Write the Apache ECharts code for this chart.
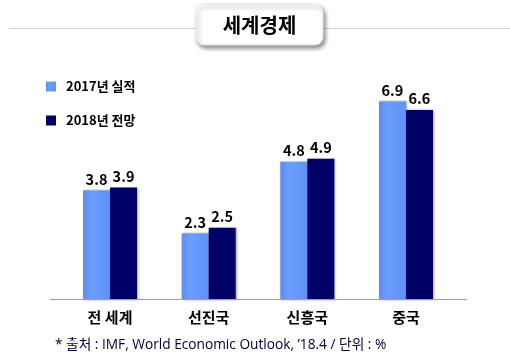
<!DOCTYPE html>
<html>
<head>
<meta charset="utf-8">
<script src="https://cdn.jsdelivr.net/npm/echarts@6/dist/echarts.min.js"></script>
<style>
html,body{margin:0;padding:0;background:#fff;}
#c{width:510px;height:358px;}
</style>
</head>
<body>
<div id="c"></div>
<script>
var categories = ['전 세계', '선진국', '신흥국', '중국'];
var series2017 = [3.8, 2.3, 4.8, 6.9];
var series2018 = [3.9, 2.5, 4.9, 6.6];
var seriesNames = ['2017년 실적', '2018년 전망'];
var titleText = '세계경제';
var footnote = '* 출처 : IMF, World Economic Outlook, ’18.4 / 단위 : %';

var FONT = '"Noto Sans CJK KR", "Noto Sans", sans-serif';
var FOOTFONT = '"Open Sans", "Noto Sans CJK KR", sans-serif';
var chart = echarts.init(document.getElementById('c'), null, {renderer: 'canvas'});

var labelStyle = {
  show: true, position: 'top', distance: 4,
  fontFamily: FONT, fontWeight: 'bold', fontSize: 14.5, color: '#000',
  formatter: function (p) { return p.value.toFixed(1); }
};

chart.setOption({
  animation: false,
  grid: {left: 60.7, right: 54.7, top: 12.5, bottom: 58.5},
  legend: {
    orient: 'vertical', left: 46, top: 80, itemGap: 21, padding: 0,
    itemWidth: 10, itemHeight: 10, icon: 'rect',
    textStyle: {fontFamily: FONT, fontWeight: 'bold', fontSize: 13, color: '#000', padding: [0, 0, 0, 5]},
    data: seriesNames
  },
  xAxis: {
    type: 'category', data: categories,
    axisLine: {show: false}, axisTick: {show: false},
    axisLabel: {fontFamily: FONT, fontWeight: 'bold', fontSize: 15, color: '#000', margin: 10}
  },
  yAxis: {type: 'value', min: 0, max: 10, show: false, splitLine: {show: false}},
  series: [
    {
      name: seriesNames[0], type: 'bar', data: series2017, barWidth: 27, barGap: '0%',
      itemStyle: {
        color: new echarts.graphic.LinearGradient(0, 0, 1, 0, [
          {offset: 0, color: '#5a8cf0'}, {offset: 0.3, color: '#6d9dff'}, {offset: 1, color: '#5f92f7'}
        ]),
        shadowBlur: 2, shadowColor: 'rgba(0,0,0,0.35)', shadowOffsetX: 1, shadowOffsetY: 0
      },
      label: labelStyle
    },
    {
      name: seriesNames[1], type: 'bar', data: series2018, barWidth: 27,
      itemStyle: {
        color: '#000066',
        shadowBlur: 2, shadowColor: 'rgba(0,0,0,0.35)', shadowOffsetX: 1, shadowOffsetY: 0
      },
      label: labelStyle
    }
  ],
  color: ['#6699ff', '#000066'],
  graphic: [
    {type: 'line', shape: {x1: 9, y1: 28.5, x2: 510, y2: 28.5}, style: {stroke: '#d0d0d0', lineWidth: 1}, z: 1},
    {type: 'rect', shape: {x: 196, y: 4, width: 127, height: 41, r: 8},
      style: {fill: '#fff', stroke: '#e6e6e6', lineWidth: 1, shadowBlur: 4, shadowOffsetX: 2, shadowOffsetY: 3, shadowColor: 'rgba(0,0,0,0.45)'}, z: 2},
    {type: 'text', x: 259.5, y: 25, style: {text: titleText, fontFamily: FONT, fontWeight: 'bold', fontSize: 20, fill: '#000', align: 'center', verticalAlign: 'middle'}, z: 3},
    {type: 'line', shape: {x1: 50, y1: 299.5, x2: 467, y2: 299.5}, style: {stroke: '#a0a0a0', lineWidth: 1.2}, z: 10},
    {type: 'text', x: 55, y: 345, style: {text: footnote, fontFamily: FOOTFONT, fontSize: 13.7, fill: '#000033', verticalAlign: 'middle'}, z: 3}
  ]
});
</script>
</body>
</html>
